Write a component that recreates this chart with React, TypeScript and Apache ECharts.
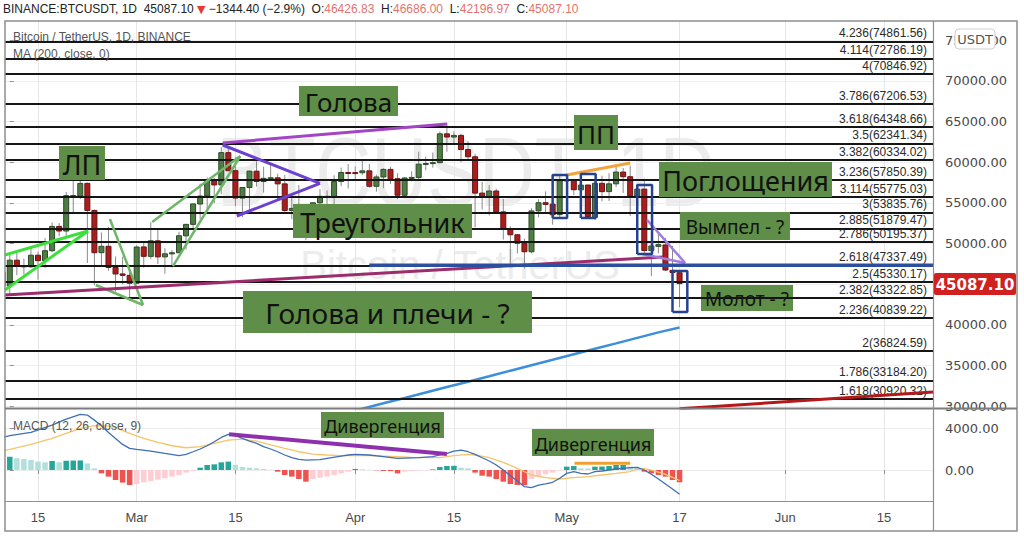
import React, { useEffect, useRef } from 'react';
import * as echarts from 'echarts';

// ---------- DATA ----------
// day index: 0 = 2021-02-11 ; candles start at Feb 10 (-1)
const candleStartDay = -1;
const opens = [
  46469, 44808, 47969, 47298, 47157, 48580, 47911, 49133, 52118, 51553, 55906, 55841, 57412, 54088, 48891, 49676, 47074, 46277, 46104,
  45134, 49596, 48437, 50349, 48374, 48747, 48882, 50959, 52375, 54875, 55852, 57773, 57222, 61188, 58976, 55605, 56901, 58913, 57641, 58030, 58100, 57352, 54083, 54343, 52304, 51294, 55026, 55817, 55778, 57635, 58747,
  58739, 58720, 58950, 57052, 58202, 59130, 57990, 55953, 58078, 58143, 59769, 59860, 59965, 63503, 63110, 63314, 61573, 60684, 56216, 55724, 56473, 53906, 51762, 51093, 50050, 49004, 54031, 55036, 54858, 53568,
  57715, 57826, 56620, 57214, 53242, 57420, 56395, 57353, 58803, 58232, 55860, 56705, 49140, 49672, 49841, 46716, 46427,
];
const highs = [
  47145, 48679, 48986, 48150, 49707, 49011, 50689, 52619, 52530, 56368, 57700, 58353, 57508, 54184, 51375, 52042, 48424, 48394, 46638,
  49790, 50200, 52640, 51774, 49449, 49200, 51450, 52403, 54895, 57388, 58150, 58082, 61844, 61725, 60633, 56938, 58975, 60130, 59468, 59880, 58589, 58431, 55831, 57200, 53287, 55073, 56700, 56560, 58406, 59368, 59800,
  59490, 60200, 59792, 58493, 59258, 59448, 58655, 58153, 58895, 61300, 60699, 61199, 63778, 64854, 63821, 63521, 62572, 61058, 57600, 57200, 56758, 55521, 52121, 51168, 50591, 54357, 55466, 56429, 55218, 58458,
  58550, 57915, 58973, 57214, 57911, 58360, 58650, 59500, 59301, 59595, 56868, 58000, 51367, 51483, 50700, 49720, 46686,
];
const lows = [
  43882, 43727, 46125, 46203, 47014, 45570, 47004, 48947, 50902, 50808, 53864, 55478, 47622, 44893, 47214, 46674, 44107, 45000, 43000,
  45115, 47048, 48101, 47500, 46300, 47070, 48882, 49275, 51789, 53005, 54273, 54963, 56078, 58967, 54600, 53271, 54124, 57023, 56271, 57820, 55450, 53650, 53000, 51700, 50428, 51215, 53950, 54692, 54800, 57071, 56769,
  57935, 58429, 56880, 56388, 56818, 57333, 55473, 55700, 57654, 57900, 59018, 59350, 59867, 61301, 62209, 60000, 60361, 52000, 54188, 53470, 53695, 50500, 47500, 48805, 46930, 48818, 53222, 53813, 52331, 53068,
  57051, 55983, 56590, 53047, 52900, 55200, 55242, 56962, 56236, 53400, 54370, 48600, 46000, 48800, 46650, 43963, 42197,
];
const closes = [
  44808, 47970, 47288, 47154, 48578, 47911, 49133, 52120, 51553, 55906, 55841, 57409, 54088, 48891, 49676, 47074, 46277, 46106, 45136,
  49587, 48441, 50349, 48374, 48752, 48882, 50972, 52375, 54885, 55852, 57773, 57222, 61188, 58968, 55605, 56901, 58913, 57648, 58030, 58102, 57352, 54083, 54341, 52304, 51294, 55026, 55817, 55778, 57635, 58747, 58741,
  58720, 58950, 57052, 58202, 59130, 57991, 55953, 58078, 58143, 59769, 59860, 59965, 63503, 63110, 63314, 61573, 60684, 56215, 55724, 56473, 53906, 51762, 51093, 50050, 49004, 54022, 55033, 54825, 53555, 57750,
  57829, 56631, 57200, 53334, 57424, 56397, 57356, 58804, 58232, 55860, 56705, 49150, 49716, 49880, 46761, 46456, 45087.1,
];

const tickDays = [4, 18, 32, 49, 63, 79, 95, 110, 124];
const tickLabels = ['15', 'Mar', '15', 'Apr', '15', 'May', '17', 'Jun', '15'];
const priceTicks = [30000, 35000, 40000, 45000, 50000, 55000, 60000, 65000, 70000, 75000];
const priceLabels = [30000, 35000, 40000, 50000, 55000, 60000, 65000, 70000, 75000];
const macdTicks = [0, 4000];

const fibRatios = ['4.236', '4.114', '4', '3.786', '3.618', '3.5', '3.382', '3.236', '3.114', '3', '2.885', '2.786', '2.618', '2.5', '2.382', '2.236', '2', '1.786', '1.618'];
const fibPrices = [74861.56, 72786.19, 70846.92, 67206.53, 64348.66, 62341.34, 60334.02, 57850.39, 55775.03, 53835.76, 51879.47, 50195.37, 47337.49, 45330.17, 43322.85, 40839.22, 36824.59, 33184.2, 30920.32];

const ma200 = [[48, 29250], [50, 29700], [53, 30380], [56, 31030], [59, 31700], [62, 32370], [65, 33030], [68, 33700], [71, 34380], [74, 35050], [77, 35720], [80, 36400], [83, 37070], [86, 37740], [89, 38420], [92, 39090], [95, 39700]];

const macdHist = [
  1270, 1110, 1050, 950, 800, 730, 860, 740, 880, 900, 910, 630, 160, -320, -630, -950, -1200, -1430, -1330, -1170,
  -1050, -920, -790, -630, -475, -250, -95, 220, 475, 540, 730, 800, 500, 290, 220, 160, 95, 30, -160, -475,
  -630, -855, -1110, -860, -730, -630, -475, -320, -160, 95, 60, 20, -30, -90, -100, -320, -160, -100, -60, -30,
  60, 285, 380, 400, 220, 160, -250, -540, -630, -855, -1110, -1330, -1430, -1450, -855, -630, -410, -250, -40, 320,
  380, 160, 150, 320, 330, 380, 475, 480, 320, 160, -160, -320, -475, -630, -950, -1170,
];
const macdLine = [[-1, 3100], [0, 3265], [3, 3580], [6, 4280], [8, 4850], [10, 5290], [11, 5230], [12, 4750], [13, 4220], [14, 3580], [15, 3010], [16, 2440], [17, 2060], [18, 1965], [20, 1800], [22, 1585], [24, 1360], [25, 1490], [26, 1740], [27, 2000], [28, 2310], [29, 2690], [30, 3100], [31, 3390], [32, 3265], [33, 3010], [34, 2760], [35, 2540], [36, 2220], [37, 2000], [38, 1740], [39, 1430], [40, 1170], [41, 1010], [42, 950], [44, 980], [45, 1110], [47, 1330], [48, 1430], [49, 1490], [51, 1430], [53, 1270], [55, 1110], [58, 1170], [60, 1270], [61, 1430], [62, 1585], [63, 1800], [64, 1900], [65, 1740], [66, 1490], [67, 1170], [68, 860], [69, 475], [70, 0], [71, -540], [72, -1050], [73, -1585], [74, -1680], [75, -1430], [76, -1330], [77, -1170], [78, -790], [79, -320], [80, -160], [81, -320], [82, -380], [83, -160], [84, -95], [85, 0], [86, 95], [87, 160], [88, 220], [89, 250], [90, 0], [91, -410], [92, -855], [93, -1330], [94, -1810], [95, -2310]];
const signalLine = [[-1, 1850], [0, 1965], [3, 2440], [6, 3010], [8, 3490], [10, 3960], [12, 4220], [14, 4170], [15, 4030], [17, 3490], [19, 3010], [21, 2630], [23, 2310], [25, 2120], [27, 2220], [29, 2540], [31, 2850], [33, 2950], [35, 2750], [37, 2400], [39, 2060], [41, 1740], [43, 1520], [45, 1430], [47, 1360], [49, 1360], [51, 1360], [53, 1330], [55, 1270], [57, 1200], [59, 1170], [61, 1170], [63, 1360], [65, 1490], [66, 1430], [68, 1170], [70, 730], [72, 160], [74, -475], [76, -730], [78, -855], [80, -730], [82, -630], [84, -475], [86, -320], [88, -160], [89, 90], [90, 130], [91, -20], [92, -200], [93, -420], [94, -700], [95, -1000]];

// drawn trend lines (day index, price)
const lpWedgeUpper = [[-0.7, 48610], [11.1, 51560]];
const lpWedgeLower = [[-0.7, 44300], [11.1, 51560]];
const flagTriangleA = [[14.2, 53030], [18.9, 42460]];
const flagTriangleB = [[12.2, 44920], [18.9, 42460]];
const channelUpper = [[20.2, 52660], [32.7, 60780]];
const channelLower = [[23.15, 47250], [32.7, 60780]];
const headLine = [[30.2, 62380], [62.0, 64710]];
const triangleUpper = [[30.2, 62130], [44.0, 57420]];
const triangleLower = [[32.2, 53400], [44.0, 57420]];
const neckLine = [[-0.7, 43690], [92.65, 48360]];
const blueLevel = [[51, 47337.49], [131, 47337.49]];
const ppLine = [[79.0, 58440], [88.0, 59920]];
const pennantUpper = [[90.4, 52910], [95.8, 47620]];
const pennantLower = [[89.7, 48730], [95.8, 47620]];
const redTrend = [[95, 29700], [131, 31760]];
const patternBoxes = [[77.0, 53160, 79.05, 58440], [81.0, 53160, 83.1, 58560], [89.0, 48730, 91.1, 57210], [94.0, 41600, 96.1, 46640]];
const macdDivLine = [[31.1, 3400], [62.0, 1524]];
const macdPPLine = [[80.1, 638], [88.0, 638]];

// ---------- CHART ----------
const X_MIN = -0.68;
const X_MAX = 130.95;
const FONT = 'Liberation Sans, Arial, sans-serif';
const BOXFONT = 'Noto Sans, Open Sans, sans-serif';
const BOX = '#5e8e47';

function seg(data: number[][], color: string, width: number, idx = 0, z = 5) {
  return {
    type: 'line', data, xAxisIndex: idx, yAxisIndex: idx, showSymbol: false, symbol: 'none',
    lineStyle: { color, width }, silent: true, z, clip: true,
  };
}

function box(x: number, y: number, w: number, h: number, text: string, size: number, z = 50): any[] {
  return [
    { type: 'rect', shape: { x, y, width: w, height: h }, style: { fill: BOX }, z, silent: true },
    {
      type: 'text', x: x + w / 2, y: y + h / 2 + 1, z: z + 1, silent: true,
      style: { text, fontSize: size, fontFamily: BOXFONT, fill: '#111', align: 'center', verticalAlign: 'middle', textAlign: 'center', textVerticalAlign: 'middle' },
    },
  ];
}

export default function App() {
  const ref = useRef<HTMLDivElement>(null);
  useEffect(() => {
    document.body.style.margin = '0';
    if (!ref.current) return;
    const chart = echarts.init(ref.current, undefined, { renderer: 'svg' });

    const candleData = opens.map((o, k) => [candleStartDay + k, o, closes[k], lows[k], highs[k]]);
    const histColors = macdHist.map((v, k) => {
      const prev = k > 0 ? macdHist[k - 1] : v;
      if (v >= 0) return v >= prev ? '#26a69a' : '#b2dfdb';
      return v <= prev ? '#ef5350' : '#ffcdd2';
    });
    const histData = macdHist.map((v, k) => ({ value: [k, v], itemStyle: { color: histColors[k] } }));

    const xBase = {
      type: 'value', min: X_MIN, max: X_MAX,
      axisLine: { show: false },
      axisTick: { show: false, customValues: tickDays },
      axisLabel: { show: false, customValues: tickDays },
      splitLine: { show: true, lineStyle: { color: '#e6e6e6', width: 1 } },
    };

    const yLabel = (vals: number[]) => ({
      customValues: vals, margin: 12, color: '#4a4a4a', fontSize: 13, fontFamily: 'DejaVu Sans, sans-serif',
      formatter: (v: number) => v.toFixed(2),
    });

    const fibMarks = fibPrices.map((p, i) => ({
      yAxis: p,
      label: { formatter: `${fibRatios[i]}(${p.toFixed(2)})` },
    }));

    const graphics: any[] = [
      // watermark
      {
        type: 'text', x: 466, y: 172, scaleX: 0.79, z: 0, silent: true,
        style: { text: 'BTCUSDT, 1D', fontSize: 98, fontFamily: FONT, fill: '#ececec', align: 'center', verticalAlign: 'middle', textAlign: 'center', textVerticalAlign: 'middle' },
      },
      {
        type: 'text', x: 460, y: 265, z: 0, silent: true,
        style: { text: 'Bitcoin / TetherUS', fontSize: 40, fontFamily: FONT, fill: '#ececec', align: 'center', verticalAlign: 'middle', textAlign: 'center', textVerticalAlign: 'middle' },
      },
      // header
      {
        type: 'text', x: 3, y: 9, z: 60, silent: true,
        style: {
          text: '{a|BINANCE:BTCUSDT, 1D  45087.10 }{r|▼}{a| −1344.40 (−2.9%)  O:}{p|46426.83}{a|  H:}{p|46686.00}{a|  L:}{p|42196.97}{a|  C:}{p|45087.10}',
          verticalAlign: 'middle', textVerticalAlign: 'middle',
          rich: {
            a: { fill: '#222', color: '#222', fontSize: 12, fontFamily: FONT },
            r: { fill: '#e53935', color: '#e53935', fontSize: 11, fontFamily: 'DejaVu Sans' },
            p: { fill: '#e4736e', color: '#e4736e', fontSize: 12, fontFamily: FONT },
          },
        },
      },
      // legends
      { type: 'text', x: 13, y: 37, z: 60, silent: true, style: { text: 'Bitcoin / TetherUS, 1D, BINANCE', fontSize: 12, fontFamily: FONT, fill: '#555', verticalAlign: 'middle', textVerticalAlign: 'middle' } },
      { type: 'text', x: 13, y: 54, z: 60, silent: true, style: { text: 'MA (200, close, 0)', fontSize: 12, fontFamily: FONT, fill: '#555', verticalAlign: 'middle', textVerticalAlign: 'middle' } },
      { type: 'text', x: 13, y: 426, z: 60, silent: true, style: { text: 'MACD (12, 26, close, 9)', fontSize: 12, fontFamily: FONT, fill: '#555', verticalAlign: 'middle', textVerticalAlign: 'middle' } },
      // annotation boxes
      ...box(59, 146, 46, 34, 'ЛП', 27),
      ...box(299, 86, 99, 30, 'Голова', 26),
      ...box(293, 204, 179, 34, 'Треугольник', 27),
      ...box(574, 115, 44, 35, 'ПП', 26),
      ...box(659, 162, 173, 35, 'Поглощения', 27),
      ...box(680, 212, 110, 28, 'Вымпел - ?', 19),
      ...box(243, 291, 289, 42, 'Голова и плечи - ?', 28),
      ...box(701, 285, 92, 26, 'Молот - ?', 19, 1),
      ...box(321, 412, 123, 26, 'Дивергенция', 18),
      ...box(532, 429, 122, 27, 'Дивергенция', 18),
      // frame
      { type: 'rect', shape: { x: 5, y: 21, width: 1012, height: 510 }, style: { fill: 'none', stroke: '#8f8f8f', lineWidth: 1.5 }, z: 40, silent: true },
      { type: 'line', shape: { x1: 5, y1: 408.5, x2: 1017, y2: 408.5 }, style: { stroke: '#7d7d7d', lineWidth: 2 }, z: 40, silent: true },
      { type: 'line', shape: { x1: 5, y1: 501.5, x2: 933, y2: 501.5 }, style: { stroke: '#8f8f8f', lineWidth: 1.2 }, z: 40, silent: true },
      { type: 'line', shape: { x1: 933.5, y1: 21, x2: 933.5, y2: 531 }, style: { stroke: '#8f8f8f', lineWidth: 1.2 }, z: 40, silent: true },
      // USDT box
      { type: 'rect', shape: { x: 955, y: 29, width: 40, height: 20, r: 4 }, style: { fill: '#fff', stroke: '#cfcfcf', lineWidth: 1 }, z: 61, silent: true },
      { type: 'text', x: 975, y: 39, z: 62, silent: true, style: { text: 'USDT', fontSize: 13, fontFamily: 'DejaVu Sans, sans-serif', fill: '#555', align: 'center', verticalAlign: 'middle', textAlign: 'center', textVerticalAlign: 'middle' } },
      // last price tag
      { type: 'rect', shape: { x: 934, y: 273, width: 82, height: 22, r: 2 }, style: { fill: '#d0201f' }, z: 61, silent: true },
      { type: 'text', x: 975, y: 284.5, z: 62, silent: true, style: { text: '45087.10', fontSize: 15, fontWeight: 'bold', fontFamily: 'DejaVu Sans, sans-serif', fill: '#fff', align: 'center', verticalAlign: 'middle', textAlign: 'center', textVerticalAlign: 'middle' } },
    ];

    const option: any = {
      animation: false,
      backgroundColor: '#ffffff',
      grid: [
        { left: 5, top: 21, width: 928, height: 387 },
        { left: 5, top: 409, width: 928, height: 92 },
      ],
      xAxis: [
        { ...xBase, gridIndex: 0 },
        {
          ...xBase, gridIndex: 1,
          axisTick: { show: true, customValues: tickDays, length: 4, lineStyle: { color: '#8f8f8f' } },
          axisLabel: {
            show: true, customValues: tickDays, margin: 10, fontSize: 13, color: '#4a4a4a', fontFamily: FONT,
            formatter: (v: number) => { const k = tickDays.indexOf(Math.round(v)); return k >= 0 ? tickLabels[k] : ''; },
          },
        },
      ],
      yAxis: [
        {
          type: 'value', gridIndex: 0, position: 'right', min: 29794, max: 77377,
          axisLine: { show: false },
          axisTick: { show: true, customValues: priceTicks, length: 4, lineStyle: { color: '#8f8f8f' } },
          axisLabel: yLabel(priceLabels),
          splitLine: { show: true, lineStyle: { color: '#f0f0f0' } },
        },
        {
          type: 'value', gridIndex: 1, position: 'right', min: -2952, max: 5810,
          axisLine: { show: false },
          axisTick: { show: true, customValues: macdTicks, length: 4, lineStyle: { color: '#8f8f8f' } },
          axisLabel: yLabel(macdTicks),
          splitLine: { show: true, lineStyle: { color: '#ececec' } },
        },
      ],
      graphic: { elements: graphics },
      series: [
        {
          type: 'line', name: 'MA200', data: ma200, xAxisIndex: 0, yAxisIndex: 0, showSymbol: false, symbol: 'none',
          lineStyle: { color: '#3c8fd8', width: 2.5 }, silent: true, z: 3,
          markLine: {
            silent: true, symbol: ['none', 'none'], animation: false,
            lineStyle: { color: '#151515', width: 2, type: 'solid' },
            label: { show: true, position: 'insideEndTop', distance: [6, 2], fontSize: 12, color: '#2a2a2a', fontFamily: FONT },
            emphasis: { disabled: true },
            data: fibMarks,
          },
        },
        {
          type: 'custom', name: 'BTCUSDT', data: candleData, xAxisIndex: 0, yAxisIndex: 0, clip: true, z: 4, silent: true,
          encode: { x: 0, y: [1, 2, 3, 4] },
          renderItem: (_p: any, api: any) => {
            const x = api.value(0);
            const o = api.value(1), c = api.value(2), l = api.value(3), h = api.value(4);
            const po = api.coord([x, o]);
            const pc = api.coord([x, c]);
            const pl = api.coord([x, l]);
            const ph = api.coord([x, h]);
            const up = c >= o;
            const w = 5;
            const top = Math.min(po[1], pc[1]);
            const hh = Math.max(Math.abs(po[1] - pc[1]), 1);
            return {
              type: 'group',
              children: [
                { type: 'line', shape: { x1: ph[0], y1: ph[1], x2: pl[0], y2: pl[1] }, style: { stroke: '#8a8a8a', lineWidth: 1 } },
                { type: 'rect', shape: { x: po[0] - w / 2, y: top, width: w, height: hh }, style: { fill: up ? '#4e7d44' : '#a81e1e', stroke: up ? '#2c4a27' : '#6b1212', lineWidth: 1 } },
              ],
            };
          },
        },
        seg(lpWedgeUpper, '#3be03b', 3),
        seg(lpWedgeLower, '#3be03b', 3),
        seg(flagTriangleA, '#6fb56a', 2.5),
        seg(flagTriangleB, '#6fb56a', 2.5),
        seg(channelUpper, '#6fb56a', 2.5),
        seg(channelLower, '#6fb56a', 2.5),
        seg(headLine, '#a345c6', 3),
        seg(triangleUpper, '#6b40d2', 3),
        seg(triangleLower, '#6b40d2', 3),
        seg(neckLine, '#9c2c6c', 3),
        seg(blueLevel, '#2b4e9f', 3.5, 0, 6),
        seg(ppLine, '#f4a23c', 3),
        seg(pennantUpper, '#a07ddf', 2.5),
        seg(pennantLower, '#a07ddf', 2.5),
        seg(redTrend, '#b3191b', 3),
        ...patternBoxes.map((b) => seg([[b[0], b[1]], [b[2], b[1]], [b[2], b[3]], [b[0], b[3]], [b[0], b[1]]], '#25428f', 2.5, 0, 7)),
        // MACD pane
        {
          type: 'bar', name: 'Histogram', data: histData, xAxisIndex: 1, yAxisIndex: 1, barWidth: 5.5, silent: true, z: 2,
        },
        { type: 'line', name: 'MACD', data: macdLine, xAxisIndex: 1, yAxisIndex: 1, showSymbol: false, symbol: 'none', lineStyle: { color: '#3f6fb5', width: 1.3 }, silent: true, z: 4 },
        { type: 'line', name: 'Signal', data: signalLine, xAxisIndex: 1, yAxisIndex: 1, showSymbol: false, symbol: 'none', lineStyle: { color: '#f3c46c', width: 1.3 }, silent: true, z: 3 },
        seg(macdDivLine, '#8e2fb0', 4, 1, 6),
        seg(macdPPLine, '#f0a030', 3, 1, 6),
      ],
    };
    chart.setOption(option);
    return () => chart.dispose();
  }, []);
  return <div ref={ref} style={{ width: 1024, height: 537 }} />;
}
